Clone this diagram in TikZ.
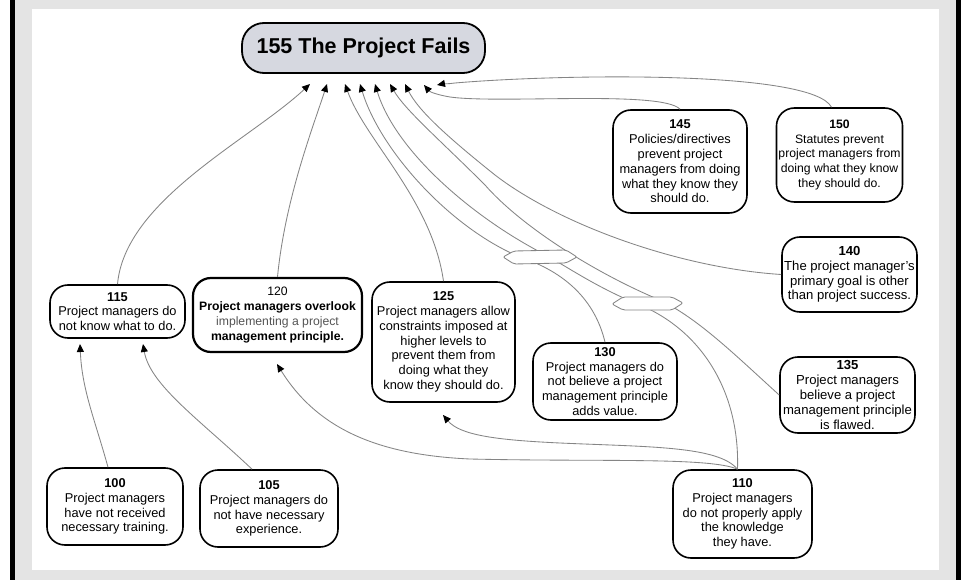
\documentclass[tikz,border=0pt]{standalone}
\usepackage{fontspec}
\setmainfont{Liberation Sans}
\usetikzlibrary{arrows.meta}
\definecolor{bggray}{HTML}{E4E4E4}
\definecolor{linegray}{HTML}{858585}
\definecolor{topfill}{HTML}{D6D8E0}
\definecolor{softtext}{HTML}{555555}
\tikzset{
  box/.style={draw=black, line width=1.6pt, rounded corners=18pt, fill=white,
    align=center, inner sep=2pt, font=\fontsize{12.8}{14.8}\selectfont},
  edge/.style={draw=linegray, line width=0.85pt,
    -{Triangle[length=8pt,width=7pt,color=black]}},
  andmark/.style={draw=linegray, line width=0.85pt, fill=white, rounded corners=2pt},
}
\begin{document}
\begin{tikzpicture}[x=1pt,y=-1pt]
\useasboundingbox (0,0) rectangle (961,580);
% frame
\fill[white] (0,0) rectangle (961,580);
\fill[bggray] (15,0) rectangle (956,580);
\fill[black] (10,0) rectangle (15,580);
\fill[black] (956,0) rectangle (961,580);
\fill[white] (32,9) rectangle (939,570);

% nodes
\node[box, minimum width=243pt, minimum height=50pt, fill=topfill, rounded corners=22pt,
  line width=1.8pt, font=\fontsize{21.5}{24}\selectfont\bfseries] (n155) at (363.5,48) {155 The Project Fails};
\node[box, minimum width=135pt, minimum height=53pt] (n115) at (117.5,311.5)
  {\textbf{115}\\Project managers do\\not know what to do.};
\node[box, line width=2.2pt, minimum width=169pt, minimum height=74pt, font=\fontsize{12.2}{14.8}\selectfont] (n120) at (277.5,315)
  {120\\\textbf{Project managers overlook}\\{\color{softtext}implementing a project}\\\textbf{management principle.}};
\node[box, minimum width=143pt, minimum height=120pt] (n125) at (443.5,342)
  {\textbf{125}\\Project managers allow\\constraints imposed at\\higher levels to\\prevent them from\\doing what they\\know they should do.};
\node[box, minimum width=144pt, minimum height=77pt] (n130) at (605,381.5)
  {\textbf{130}\\Project managers do\\not believe a project\\management principle\\adds value.};
\node[box, minimum width=135pt, minimum height=76pt, font=\fontsize{13.1}{14.8}\selectfont] (n135) at (847.5,395)
  {\textbf{135}\\Project managers\\believe a project\\management principle\\is flawed.};
\node[box, minimum width=135pt, minimum height=75pt, font=\fontsize{13.1}{14.8}\selectfont] (n140) at (849.5,274.5)
  {\textbf{140}\\The project manager's\\primary goal is other\\than project success.};
\node[box, minimum width=134pt, minimum height=103pt] (n145) at (680,161.5)
  {\textbf{145}\\Policies/directives\\prevent project\\managers from doing\\what they know they\\should do.};
\node[box, minimum width=125pt, minimum height=94pt, font=\fontsize{12.2}{14.8}\selectfont] (n150) at (839.5,155)
  {\textbf{150}\\Statutes prevent\\project managers from\\doing what they know\\they should do.};
\node[box, minimum width=136pt, minimum height=77pt] (n100) at (115,506.5)
  {\textbf{100}\\Project managers\\have not received\\necessary training.};
\node[box, minimum width=138pt, minimum height=77pt] (n105) at (269,508.5)
  {\textbf{105}\\Project managers do\\not have necessary\\experience.};
\node[box, minimum width=139pt, minimum height=88pt] (n110) at (742.5,514)
  {\textbf{110}\\Project managers\\do not properly apply\\the knowledge\\they have.};

% arrow targets
\coordinate (t1) at (310,84);
\coordinate (t2) at (327,84);
\coordinate (t3) at (345,84);
\coordinate (t4) at (360,84);
\coordinate (t5) at (375,84);
\coordinate (t6) at (390,84);
\coordinate (t7) at (405,84);
\coordinate (t8) at (424,85);
\coordinate (t9) at (437,85);
\coordinate (b1) at (80,344);
\coordinate (b2) at (143,344);
\coordinate (b3) at (277,364);
\coordinate (b4) at (443,415);

% connectors to 155
\draw[edge] (n115.north) .. controls (125,200) and (250,140) .. (t1);
\draw[edge] (n120.north) .. controls (285,200) and (312,130) .. (t2);
\draw[edge] (n125.north) .. controls (432,200) and (365,140) .. (t3);
\draw[edge] (n130.north) .. controls (595,300) and (565,272) .. (520,257)
  .. controls (450,228) and (380,150) .. (t4);
\draw[edge] ([xshift=-5pt]n110.north) .. controls (740,390) and (700,330) .. (640,305)
  .. controls (595,287) and (565,265) .. (540,252)
  .. controls (470,215) and (395,150) .. (t5);
\draw[edge] (n135.west) .. controls (735,355) and (695,315) .. (655,298)
  .. controls (590,270) and (520,225) .. (485,185)
  .. controls (440,140) and (405,110) .. (t6);
\draw[edge] (n140.west) .. controls (680,268) and (560,225) .. (495,175)
  .. controls (445,135) and (418,110) .. (t7);
\draw[edge] (n145.north) .. controls (662,90) and (500,104) .. (450,97) .. controls (438,95) and (430,92) .. (t8);
\draw[edge] ([xshift=-8pt]n150.north) .. controls (812,70) and (560,74) .. (455,83) .. controls (448,84) and (442,84) .. (t9);

% lower connectors
\draw[edge] ([xshift=-7pt]n100.north) .. controls (95,420) and (82,390) .. (b1);
\draw[edge] ([xshift=-17pt]n105.north) .. controls (200,420) and (150,385) .. (b2);
\draw[edge] ([xshift=-5pt]n110.north) .. controls (710,457) and (600,462) .. (470,459)
  .. controls (380,455) and (318,430) .. (b3);
\draw[edge] ([xshift=-5pt]n110.north) .. controls (718,446) and (650,447) .. (560,443)
  .. controls (495,440) and (460,435) .. (b4);

% AND connectors
\draw[andmark] (503,257) -- (514,251) -- (566,250) -- (577,257) -- (566,263) -- (514,264) -- cycle;
\draw[andmark] (612,304) -- (623,297) -- (672,297) -- (683,303) -- (672,310) -- (623,310) -- cycle;
\end{tikzpicture}
\end{document}
